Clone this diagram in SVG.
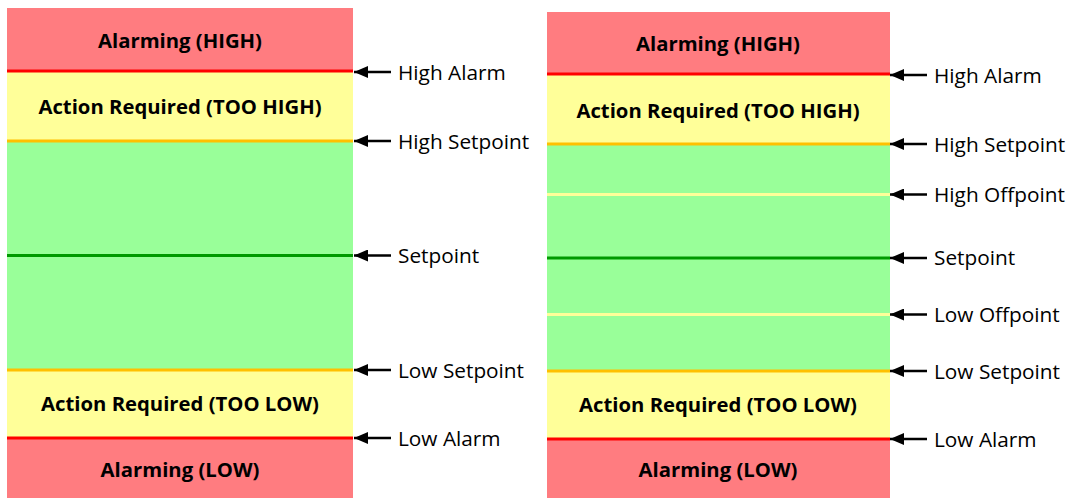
<svg xmlns="http://www.w3.org/2000/svg" width="1072" height="498" viewBox="0 0 1072 498">
<style>
.red{fill:#FF7C80}.yel{fill:#FFFF99}.grn{fill:#99FF99}
.band{font-family:"Open Sans","Liberation Sans",sans-serif;font-weight:bold;font-size:20.3px;fill:#000;text-anchor:middle}
.lbl{font-family:"Open Sans","Liberation Sans",sans-serif;font-size:20.8px;fill:#000}
.lr{stroke:#FF0000;stroke-width:3}.lo{stroke:#FFC000;stroke-width:3}.lg{stroke:#009900;stroke-width:3}.ly{stroke:#FFFF99;stroke-width:3}
.arr{stroke:#000;stroke-width:2.5;fill:none;marker-end:url(#ah)}
</style>
<defs>
<marker id="ah" markerWidth="14" markerHeight="12" refX="14" refY="6" orient="auto" markerUnits="userSpaceOnUse">
<path d="M0,0 L14,6 L0,12 Z" fill="#000"/>
</marker>
</defs>
<rect width="1072" height="498" fill="#fff"/>
<g id="left">
<rect class="red" x="7" y="8" width="346" height="63"/>
<rect class="yel" x="7" y="71" width="346" height="70"/>
<rect class="grn" x="7" y="141" width="346" height="229"/>
<rect class="yel" x="7" y="370" width="346" height="68"/>
<rect class="red" x="7" y="438" width="346" height="60"/>
<line class="lr" x1="7" y1="71" x2="353" y2="71"/>
<line class="lo" x1="7" y1="141" x2="353" y2="141"/>
<line class="lg" x1="7" y1="255.5" x2="353" y2="255.5"/>
<line class="lo" x1="7" y1="370" x2="353" y2="370"/>
<line class="lr" x1="7" y1="438" x2="353" y2="438"/>
<text class="band" x="180" y="48">Alarming (HIGH)</text>
<text class="band" x="180" y="114">Action Required (TOO HIGH)</text>
<text class="band" x="180" y="411">Action Required (TOO LOW)</text>
<text class="band" x="180" y="477">Alarming (LOW)</text>
</g>
<g id="right">
<rect class="red" x="547" y="12" width="343" height="62"/>
<rect class="yel" x="547" y="74" width="343" height="70"/>
<rect class="grn" x="547" y="144" width="343" height="227"/>
<rect class="yel" x="547" y="371" width="343" height="68"/>
<rect class="red" x="547" y="439" width="343" height="59"/>
<line class="lr" x1="547" y1="74" x2="890" y2="74"/>
<line class="lo" x1="547" y1="144" x2="890" y2="144"/>
<line class="ly" x1="547" y1="194.5" x2="890" y2="194.5"/>
<line class="lg" x1="547" y1="258" x2="890" y2="258"/>
<line class="ly" x1="547" y1="314.5" x2="890" y2="314.5"/>
<line class="lo" x1="547" y1="371" x2="890" y2="371"/>
<line class="lr" x1="547" y1="439" x2="890" y2="439"/>
<text class="band" x="718" y="51">Alarming (HIGH)</text>
<text class="band" x="718" y="118">Action Required (TOO HIGH)</text>
<text class="band" x="718" y="412">Action Required (TOO LOW)</text>
<text class="band" x="718" y="477">Alarming (LOW)</text>
</g>
<g id="connectors">
<line class="arr" x1="391" y1="72" x2="354" y2="72"/>
<line class="arr" x1="391" y1="141" x2="354" y2="141"/>
<line class="arr" x1="391" y1="255.5" x2="354" y2="255.5"/>
<line class="arr" x1="391" y1="370" x2="354" y2="370"/>
<line class="arr" x1="391" y1="438" x2="354" y2="438"/>
<line class="arr" x1="927" y1="75" x2="890" y2="75"/>
<line class="arr" x1="927" y1="144" x2="890" y2="144"/>
<line class="arr" x1="927" y1="194.5" x2="890" y2="194.5"/>
<line class="arr" x1="927" y1="258" x2="890" y2="258"/>
<line class="arr" x1="927" y1="314.5" x2="890" y2="314.5"/>
<line class="arr" x1="927" y1="371" x2="890" y2="371"/>
<line class="arr" x1="927" y1="439" x2="890" y2="439"/>
</g>
<g id="labels">
<text class="lbl" x="398" y="80">High Alarm</text>
<text class="lbl" x="398" y="149">High Setpoint</text>
<text class="lbl" x="398" y="263">Setpoint</text>
<text class="lbl" x="398" y="378">Low Setpoint</text>
<text class="lbl" x="398" y="446">Low Alarm</text>
<text class="lbl" x="934" y="83">High Alarm</text>
<text class="lbl" x="934" y="152">High Setpoint</text>
<text class="lbl" x="934" y="202">High Offpoint</text>
<text class="lbl" x="934" y="265">Setpoint</text>
<text class="lbl" x="934" y="322">Low Offpoint</text>
<text class="lbl" x="934" y="379">Low Setpoint</text>
<text class="lbl" x="934" y="447">Low Alarm</text>
</g>
</svg>
